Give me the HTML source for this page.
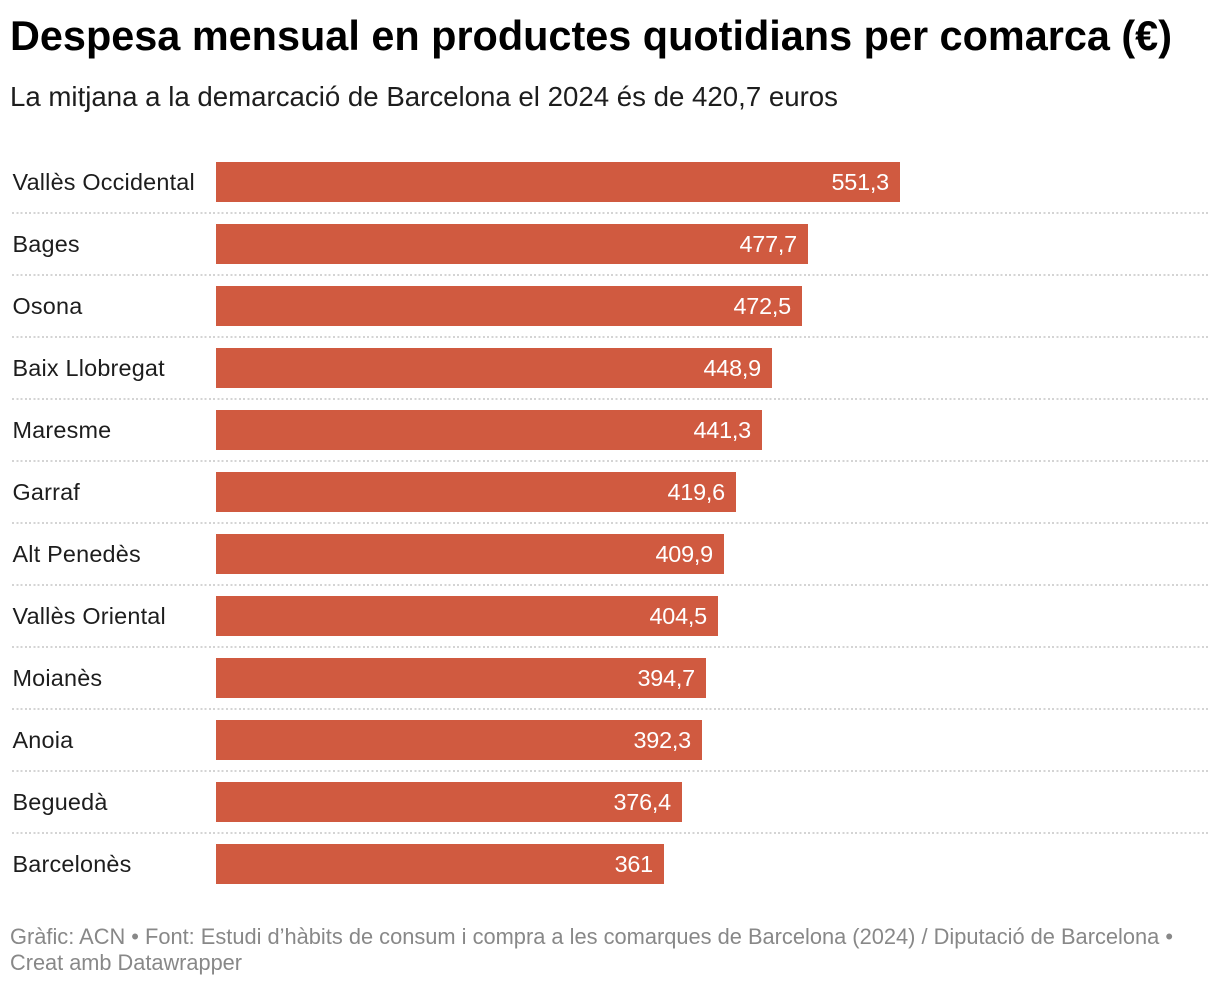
<!DOCTYPE html>
<html lang="ca">
<head>
<meta charset="utf-8">
<title>Despesa mensual en productes quotidians per comarca (€)</title>
<style>
html,body{margin:0;padding:0;background:#fff;width:1220px;height:986px;overflow:hidden}
svg{display:block;font-family:"Liberation Sans",sans-serif}
</style>
</head>
<body>
<svg id="chart" width="1220" height="986" viewBox="0 0 1220 986" xmlns="http://www.w3.org/2000/svg">
<text x="10" y="50" font-size="42" font-weight="700" fill="#000" textLength="1162" lengthAdjust="spacingAndGlyphs">Despesa mensual en productes quotidians per comarca (€)</text>
<text x="10" y="106" font-size="27.5" fill="#1d1d1d" textLength="828" lengthAdjust="spacingAndGlyphs">La mitjana a la demarcació de Barcelona el 2024 és de 420,7 euros</text>
<g id="rows"></g>
<text x="10" y="944" font-size="22" fill="#888" textLength="1163" lengthAdjust="spacingAndGlyphs">Gràfic: ACN • Font: Estudi d’hàbits de consum i compra a les comarques de Barcelona (2024) / Diputació de Barcelona •</text>
<text x="10" y="970" font-size="22" fill="#888" textLength="232" lengthAdjust="spacingAndGlyphs">Creat amb Datawrapper</text>
</svg>
<script>
const categories = ["Vallès Occidental","Bages","Osona","Baix Llobregat","Maresme","Garraf","Alt Penedès","Vallès Oriental","Moianès","Anoia","Beguedà","Barcelonès"];
const values = [551.3,477.7,472.5,448.9,441.3,419.6,409.9,404.5,394.7,392.3,376.4,361];
const valueLabels = ["551,3","477,7","472,5","448,9","441,3","419,6","409,9","404,5","394,7","392,3","376,4","361"];
const domainMax = 800;

const NS = "http://www.w3.org/2000/svg";
const plotLeft = 216, plotRight = 1208, lineLeft = 12;
const rowTop = 162, rowStep = 62, barHeight = 40;
// The bar width snaps to the 2px device grid.
const xScale = v => Math.round(((plotRight - plotLeft) * v / domainMax - 0.4) / 2) * 2;
const yScale = i => rowTop + i * rowStep;
const rows = document.getElementById("rows");

function make(tag, attrs, text) {
  const el = document.createElementNS(NS, tag);
  for (const k in attrs) el.setAttribute(k, attrs[k]);
  if (text !== undefined) el.textContent = text;
  rows.appendChild(el);
  return el;
}

categories.forEach((name, i) => {
  const y = yScale(i);
  const w = xScale(values[i]);

  const label = make("text", {x: lineLeft + 0.5, y: y + 28, "font-size": 23.4, "letter-spacing": 0.2, fill: "#1d1d1d"}, name);
  
  

  const bar = make("rect", {x: plotLeft, y: y, width: w, height: barHeight, fill: "#d05a40", "shape-rendering": "crispEdges"});
  
  

  const val = make("text", {x: plotLeft + w - 11, y: y + 28, "font-size": 23.4, "letter-spacing": -0.2, fill: "#fff", "text-anchor": "end"}, valueLabels[i]);
  
  

  if (i < categories.length - 1) {
    const line = make("line", {x1: lineLeft, x2: plotRight, y1: y + 51, y2: y + 51, stroke: "#d4d4d4", "stroke-width": 2, "stroke-dasharray": "2 2.28", "shape-rendering": "crispEdges"});
    
    
  }
});
</script>
</body>
</html>
